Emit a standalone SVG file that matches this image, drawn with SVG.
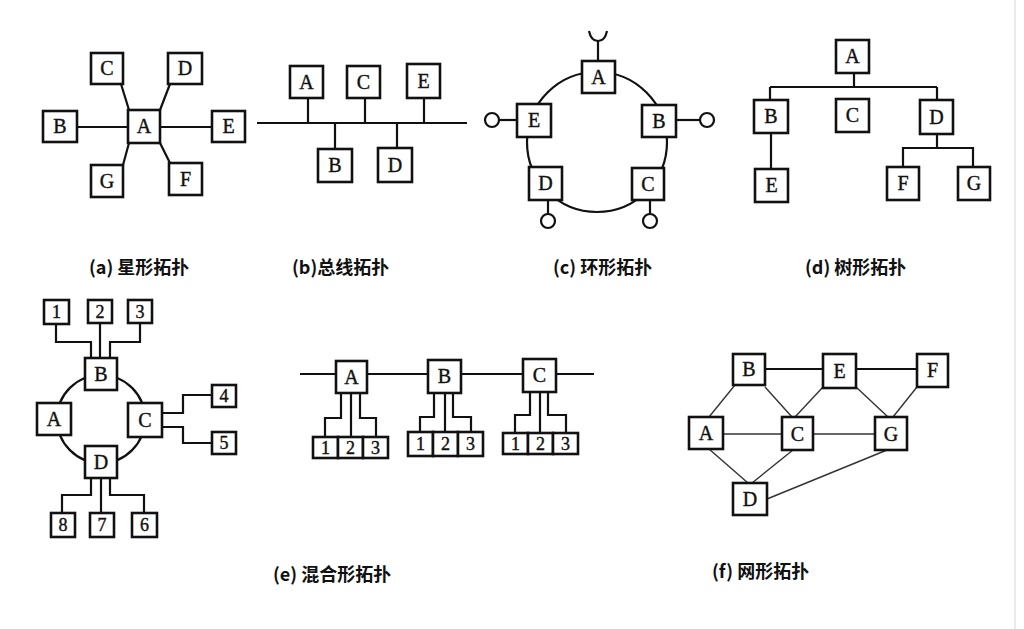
<svg xmlns="http://www.w3.org/2000/svg" width="1024" height="629" viewBox="0 0 1024 629">
<style>
.bx{fill:#fff;stroke:#111;stroke-width:2.6}
.t{font-family:"Liberation Serif","DejaVu Serif",serif;font-size:20px;fill:#111;stroke:#111;stroke-width:0.4;text-anchor:middle}
.s{font-family:"Liberation Serif","DejaVu Serif",serif;font-size:18px;fill:#111;stroke:#111;stroke-width:0.4;text-anchor:middle}
.ln{stroke:#111;stroke-width:2.2;fill:none}
.lt{stroke:#333;stroke-width:1.4;fill:none}
.cap{font-family:"Noto Sans CJK SC","Liberation Sans",sans-serif;font-size:18px;font-weight:bold;fill:#111}
</style>
<rect width="1024" height="629" fill="#fff"/>
<line x1="1015" y1="0" x2="1015" y2="629" stroke="#e2e2e2" stroke-width="1.5"/>

<!-- connectors -->
<g id="connectors">
  <!-- (a) star -->
  <line class="ln" x1="77" y1="127" x2="128" y2="127"/>
  <line class="ln" x1="160" y1="127" x2="212" y2="127"/>
  <line class="ln" x1="121" y1="84" x2="129" y2="110"/>
  <line class="ln" x1="170" y1="84" x2="160" y2="110"/>
  <line class="ln" x1="129" y1="143" x2="123" y2="165"/>
  <line class="ln" x1="160" y1="143" x2="170" y2="163"/>
  <!-- (b) bus -->
  <line class="ln" stroke-width="3" x1="257" y1="123" x2="467" y2="123"/>
  <line class="ln" x1="308" y1="98" x2="308" y2="123"/>
  <line class="ln" x1="365" y1="98" x2="365" y2="123"/>
  <line class="ln" x1="424" y1="98" x2="424" y2="123"/>
  <line class="ln" x1="335" y1="123" x2="335" y2="149"/>
  <line class="ln" x1="397" y1="123" x2="397" y2="148"/>
  <!-- (c) ring -->
  <circle class="ln" cx="597" cy="142" r="70"/>
  <line class="ln" stroke-width="1.6" x1="598" y1="61" x2="598" y2="41"/>
  <path class="ln" stroke-width="1.6" d="M589,31 Q591,41 598,41 Q605,41 607,31"/>
  <line class="ln" stroke-width="1.6" x1="499" y1="120" x2="517" y2="120"/>
  <circle class="ln" stroke-width="1.6" fill="#fff" cx="492" cy="120" r="7"/>
  <line class="ln" stroke-width="1.6" x1="676" y1="120" x2="700" y2="120"/>
  <circle class="ln" stroke-width="1.6" fill="#fff" cx="707" cy="120" r="7"/>
  <line class="ln" stroke-width="1.6" x1="548" y1="200" x2="548" y2="214"/>
  <circle class="ln" stroke-width="1.6" fill="#fff" cx="548" cy="221" r="7"/>
  <line class="ln" stroke-width="1.6" x1="650" y1="200" x2="650" y2="214"/>
  <circle class="ln" stroke-width="1.6" fill="#fff" cx="650" cy="221" r="7"/>
  <!-- (d) tree -->
  <line class="ln" x1="854" y1="73" x2="854" y2="87"/>
  <line class="ln" x1="770" y1="87" x2="937" y2="87"/>
  <line class="ln" x1="770" y1="87" x2="770" y2="100"/>
  <line class="ln" x1="937" y1="87" x2="937" y2="100"/>
  <line class="ln" x1="771" y1="133" x2="771" y2="169"/>
  <path class="ln" d="M937,134 V148 M903,167 V148 H973 V167"/>
  <!-- (e) hybrid ring -->
  <circle class="ln" cx="101" cy="419" r="44"/>
  <path class="ln" d="M56,324 V342 H91 V358"/>
  <path class="ln" d="M100,323 V358"/>
  <path class="ln" d="M140,323 V342 H110 V358"/>
  <path class="ln" d="M162,413 H183 V395 H212"/>
  <path class="ln" d="M162,427 H183 V443 H212"/>
  <path class="ln" d="M91,478 V495 H62 V513"/>
  <path class="ln" d="M101,478 V513"/>
  <path class="ln" d="M110,478 V495 H144 V513"/>
  <!-- (e) hybrid bus -->
  <line class="ln" x1="300" y1="374" x2="594" y2="374"/>
  <path class="ln" d="M341,393 V418 H325 V437"/>
  <path class="ln" d="M351,393 V437"/>
  <path class="ln" d="M360,393 V418 H376 V437"/>
  <path class="ln" d="M434,393 V417 H420 V432"/>
  <path class="ln" d="M445,393 V432"/>
  <path class="ln" d="M453,393 V417 H471 V432"/>
  <path class="ln" d="M530,392 V415 H515 V433"/>
  <path class="ln" d="M540,392 V433"/>
  <path class="ln" d="M548,392 V415 H566 V433"/>
  <!-- (f) mesh -->
  <line class="ln" stroke-width="2.8" x1="765" y1="369" x2="823" y2="369"/>
  <line class="ln" x1="856" y1="369" x2="917" y2="369"/>
  <line class="lt" x1="735" y1="385" x2="709" y2="417"/>
  <line class="lt" x1="765" y1="387" x2="792" y2="417"/>
  <line class="lt" x1="823" y1="387" x2="795" y2="417"/>
  <line class="lt" stroke="#777" x1="856" y1="387" x2="888" y2="417"/>
  <line class="lt" x1="917" y1="387" x2="893" y2="417"/>
  <line class="lt" stroke="#aaa" stroke-width="1.6" x1="723" y1="434" x2="782" y2="434"/>
  <line class="lt" stroke-width="1.6" x1="813" y1="434" x2="875" y2="434"/>
  <line class="lt" x1="709" y1="449" x2="748" y2="483"/>
  <line class="lt" x1="793" y1="450" x2="752" y2="483"/>
  <line class="lt" x1="887" y1="450" x2="767" y2="499"/>
</g>

<!-- (a) star nodes -->
<g id="a-A"><rect class="bx" x="128" y="110" width="32" height="33"/><text class="t" x="144" y="133">A</text></g>
<g id="a-B"><rect class="bx" x="43" y="111" width="34" height="31"/><text class="t" x="60" y="133">B</text></g>
<g id="a-C"><rect class="bx" x="91" y="53" width="32" height="31"/><text class="t" x="107" y="75">C</text></g>
<g id="a-D"><rect class="bx" x="168" y="53" width="34" height="31"/><text class="t" x="185" y="75">D</text></g>
<g id="a-E"><rect class="bx" x="212" y="111" width="33" height="31"/><text class="t" x="228.5" y="133">E</text></g>
<g id="a-G"><rect class="bx" x="91" y="165" width="32" height="32"/><text class="t" x="107" y="188">G</text></g>
<g id="a-F"><rect class="bx" x="169" y="163" width="33" height="32"/><text class="t" x="185.5" y="186">F</text></g>

<!-- (b) bus nodes -->
<g id="b-A"><rect class="bx" x="290" y="66" width="33" height="32"/><text class="t" x="306.5" y="89">A</text></g>
<g id="b-C"><rect class="bx" x="347" y="66" width="33" height="32"/><text class="t" x="363.5" y="89">C</text></g>
<g id="b-E"><rect class="bx" x="407" y="64" width="33" height="34"/><text class="t" x="423.5" y="88">E</text></g>
<g id="b-B"><rect class="bx" x="318" y="149" width="34" height="33"/><text class="t" x="335" y="172">B</text></g>
<g id="b-D"><rect class="bx" x="378" y="148" width="34" height="34"/><text class="t" x="395" y="172">D</text></g>

<!-- (c) ring nodes -->
<g id="c-A"><rect class="bx" x="582" y="61" width="33" height="32"/><text class="t" x="598.5" y="84">A</text></g>
<g id="c-E"><rect class="bx" x="517" y="104" width="34" height="33"/><text class="t" x="534" y="127">E</text></g>
<g id="c-B"><rect class="bx" x="642" y="105" width="34" height="32"/><text class="t" x="659" y="128">B</text></g>
<g id="c-D"><rect class="bx" x="529" y="167" width="33" height="33"/><text class="t" x="545.5" y="190">D</text></g>
<g id="c-C"><rect class="bx" x="632" y="168" width="32" height="32"/><text class="t" x="648" y="191">C</text></g>

<!-- (d) tree nodes -->
<g id="d-A"><rect class="bx" x="836" y="40" width="33" height="33"/><text class="t" x="852.5" y="63">A</text></g>
<g id="d-B"><rect class="bx" x="754" y="100" width="34" height="33"/><text class="t" x="771" y="123">B</text></g>
<g id="d-C"><rect class="bx" x="836" y="99" width="33" height="33"/><text class="t" x="852.5" y="122">C</text></g>
<g id="d-D"><rect class="bx" x="920" y="100" width="33" height="34"/><text class="t" x="936.5" y="124">D</text></g>
<g id="d-E"><rect class="bx" x="755" y="169" width="33" height="33"/><text class="t" x="771.5" y="192">E</text></g>
<g id="d-F"><rect class="bx" x="887" y="167" width="32" height="33"/><text class="t" x="903" y="190">F</text></g>
<g id="d-G"><rect class="bx" x="958" y="167" width="32" height="33"/><text class="t" x="974" y="190">G</text></g>

<!-- (e) hybrid ring nodes -->
<g id="e-B"><rect class="bx" x="85" y="358" width="32" height="32"/><text class="t" x="101" y="381">B</text></g>
<g id="e-A"><rect class="bx" x="37" y="403" width="34" height="32"/><text class="t" x="54" y="426">A</text></g>
<g id="e-C"><rect class="bx" x="128" y="403" width="34" height="34"/><text class="t" x="145" y="427">C</text></g>
<g id="e-D"><rect class="bx" x="85" y="446" width="32" height="32"/><text class="t" x="101" y="469">D</text></g>
<g id="e-1"><rect class="bx" x="44" y="300" width="25" height="24"/><text class="s" x="56.5" y="318">1</text></g>
<g id="e-2"><rect class="bx" x="88" y="300" width="24" height="23"/><text class="s" x="100" y="318">2</text></g>
<g id="e-3"><rect class="bx" x="128" y="300" width="24" height="23"/><text class="s" x="140" y="318">3</text></g>
<g id="e-4"><rect class="bx" x="212" y="385" width="24" height="22"/><text class="s" x="224" y="402">4</text></g>
<g id="e-5"><rect class="bx" x="212" y="432" width="24" height="22"/><text class="s" x="224" y="449">5</text></g>
<g id="e-8"><rect class="bx" x="51" y="513" width="24" height="24"/><text class="s" x="63" y="531">8</text></g>
<g id="e-7"><rect class="bx" x="90" y="513" width="24" height="24"/><text class="s" x="102" y="531">7</text></g>
<g id="e-6"><rect class="bx" x="132" y="513" width="25" height="24"/><text class="s" x="144.5" y="531">6</text></g>

<!-- (e) hybrid bus nodes -->
<g id="h-A"><rect class="bx" x="336" y="361" width="31" height="32"/><text class="t" x="351.5" y="384">A</text></g>
<g id="h-B"><rect class="bx" x="428" y="360" width="33" height="33"/><text class="t" x="444.5" y="383">B</text></g>
<g id="h-C"><rect class="bx" x="523" y="359" width="33" height="33"/><text class="t" x="539.5" y="382">C</text></g>
<g id="h-A1"><rect class="bx" x="313" y="437" width="25" height="21"/><text class="s" x="325.5" y="454">1</text></g>
<g id="h-A2"><rect class="bx" x="338" y="437" width="25" height="21"/><text class="s" x="350.5" y="454">2</text></g>
<g id="h-A3"><rect class="bx" x="363" y="437" width="25" height="21"/><text class="s" x="375.5" y="454">3</text></g>
<g id="h-B1"><rect class="bx" x="408" y="432" width="25" height="24"/><text class="s" x="420.5" y="450">1</text></g>
<g id="h-B2"><rect class="bx" x="433" y="432" width="25" height="24"/><text class="s" x="445.5" y="450">2</text></g>
<g id="h-B3"><rect class="bx" x="458" y="432" width="25" height="24"/><text class="s" x="470.5" y="450">3</text></g>
<g id="h-C1"><rect class="bx" x="503" y="433" width="25" height="21"/><text class="s" x="515.5" y="450">1</text></g>
<g id="h-C2"><rect class="bx" x="528" y="433" width="25" height="21"/><text class="s" x="540.5" y="450">2</text></g>
<g id="h-C3"><rect class="bx" x="553" y="433" width="25" height="21"/><text class="s" x="565.5" y="450">3</text></g>

<!-- (f) mesh nodes -->
<g id="f-B"><rect class="bx" x="733" y="354" width="32" height="31"/><text class="t" x="749" y="376">B</text></g>
<g id="f-E"><rect class="bx" x="823" y="354" width="33" height="34"/><text class="t" x="839.5" y="378">E</text></g>
<g id="f-F"><rect class="bx" x="917" y="354" width="31" height="33"/><text class="t" x="932.5" y="377">F</text></g>
<g id="f-A"><rect class="bx" x="689" y="417" width="34" height="32"/><text class="t" x="706" y="440">A</text></g>
<g id="f-C"><rect class="bx" x="782" y="417" width="31" height="33"/><text class="t" x="797.5" y="441">C</text></g>
<g id="f-G"><rect class="bx" x="875" y="417" width="32" height="33"/><text class="t" x="891" y="441">G</text></g>
<g id="f-D"><rect class="bx" x="733" y="483" width="34" height="32"/><text class="t" x="750" y="506">D</text></g>

<!-- captions -->
<g id="captions">
  <text class="cap" x="89" y="274">(a) 星形拓扑</text>
  <text class="cap" x="292" y="274">(b)总线拓扑</text>
  <text class="cap" x="553" y="274">(c) 环形拓扑</text>
  <text class="cap" x="805" y="274">(d) 树形拓扑</text>
  <text class="cap" x="273" y="581">(e) 混合形拓扑</text>
  <text class="cap" x="712" y="578">(f) 网形拓扑</text>
</g>
</svg>
